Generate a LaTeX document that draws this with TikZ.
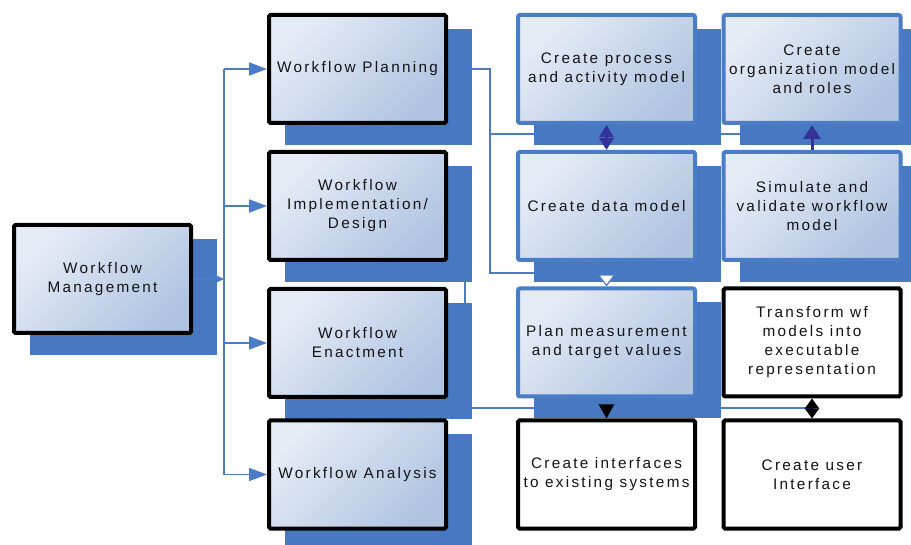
\documentclass[tikz,border=0pt]{standalone}
\usepackage{fontspec}
\setmainfont{Liberation Sans}[LetterSpace=15]
\usetikzlibrary{arrows.meta,backgrounds,calc}
\pgfdeclarelayer{bottom}
\pgfdeclarelayer{background}
\pgfsetlayers{bottom,background,main}
\definecolor{shadowc}{RGB}{71,120,193}
\definecolor{linec}{RGB}{74,125,198}
\definecolor{gradA}{RGB}{230,236,246}
\definecolor{gradB}{RGB}{176,196,226}
\definecolor{darkarr}{RGB}{51,51,153}
\definecolor{txt}{RGB}{20,20,20}
\tikzset{
  base/.style={minimum width=177pt, minimum height=108pt, inner sep=0pt, align=center,
    font=\fontsize{15.3}{19}\selectfont, text=txt},
  blackbox/.style={base, draw=black, line width=4pt, rounded corners=1.5pt,
    top color=gradA, bottom color=gradB, shading angle=45},
  bluebox/.style={base, draw=linec, line width=4pt, rounded corners=2pt,
    top color=gradA, bottom color=gradB, shading angle=45},
  plainbox/.style={base, draw=black, line width=4pt, rounded corners=1.5pt, fill=white},
  conn/.style={draw=linec, line width=1.6pt},
  bluetip/.style={-{Triangle[length=18pt,width=13pt]}},
  darkdbl/.style={draw=darkarr, line width=3pt, {Triangle[length=12pt,width=14pt]}-{Triangle[length=12pt,width=14pt]}},
  darkone/.style={draw=darkarr, line width=3pt, -{Triangle[length=14pt,width=17pt]}},
  blackone/.style={draw=black, line width=2pt, shorten <=8pt, -{Triangle[length=14pt,width=15pt]}},
  blackdbl/.style={draw=black, line width=2pt, {Triangle[length=10pt,width=14pt]}-{Triangle[length=10pt,width=14pt]}},
  opentip/.style={draw=linec, line width=1.2pt, -{Triangle[open,fill=white,length=12pt,width=18pt]}},
  dropshade/.style={fill=shadowc},
}
\newcommand\dropshadow[1]{\fill[dropshade] ($(#1.south west)+(18pt,-20pt)$) rectangle ($(#1.north east)+(24pt,-16pt)$);}
\begin{document}
\begin{tikzpicture}[x=1pt,y=-1pt]
\begin{pgfonlayer}{bottom}
\fill[white] (0,0) rectangle (911,545);
\end{pgfonlayer}
\useasboundingbox (0,0) rectangle (911,545);

% left column
\node[blackbox] (wm) at (102.5,279) {Workflow\\Management};
\node[blackbox] (wp) at (357.5,69) {Workflow Planning};
\node[blackbox] (wi) at (357.5,206) {Workflow\\Implementation/\\Design};
\node[blackbox] (we) at (357.5,343) {Workflow\\Enactment};
\node[blackbox] (wa) at (357.5,474.5) {Workflow Analysis};

% right grid
\node[bluebox] (cp) at (606.5,69) {Create process\\and activity model};
\node[bluebox] (co) at (812,69) {Create\\organization model\\and roles};
\node[bluebox] (cd) at (606.5,206) {Create data model};
\node[bluebox] (sv) at (812,206) {Simulate and\\validate workflow\\model};
\node[bluebox] (pm) at (606.5,342.5) {Plan measurement\\and target values};
\node[plainbox] (tr) at (812,342.5) {Transform wf\\models into\\executable\\representation};
\node[plainbox] (ci) at (606.5,474.5) {Create interfaces\\to existing systems};
\node[plainbox] (cu) at (812,474.5) {Create user\\Interface};

\coordinate (bus) at (224,0);
\coordinate (jp) at (490,273);
\coordinate (jq) at (490,134);
\coordinate (jqe) at (743,134);
\coordinate (ji) at (465,408);

\begin{pgfonlayer}{background}
  \draw[conn] (wp.east) -| (jp) -- (jp -| pm.north);
  \draw[conn] (jq) -- (jqe);
  \draw[conn] (wi.east) -| (ji) -- (ji -| tr.south);
  \dropshadow{wm}
  \dropshadow{wp}
  \dropshadow{wi}
  \dropshadow{we}
  \dropshadow{wa}
  \dropshadow{cp}
  \dropshadow{co}
  \dropshadow{cd}
  \dropshadow{sv}
  \dropshadow{pm}
\end{pgfonlayer}

% bus from Workflow Management
\draw[conn, -{Triangle[length=10pt,width=9pt]}] (wm.east) -- (wm.east -| bus);
\draw[conn] (bus |- wp.west) -- (bus |- wa.west);
\draw[conn, bluetip] (bus |- wp.west) -- (wp.west);
\draw[conn, bluetip] (bus |- wi.west) -- (wi.west);
\draw[conn, bluetip] (bus |- we.west) -- (we.west);
\draw[conn, bluetip] (bus |- wa.west) -- (wa.west);

% arrow into plan measurement
\draw[opentip] (jp -| pm.north) -- (pm.north);

% arrows between right boxes
\draw[darkdbl] (cd.north) -- (cp.south);
\draw[darkone] (sv.north) -- (co.south);
\draw[blackone] (pm.south) -- (ci.north);
\draw[blackdbl] (cu.north) -- (tr.south);
\end{tikzpicture}
\end{document}
